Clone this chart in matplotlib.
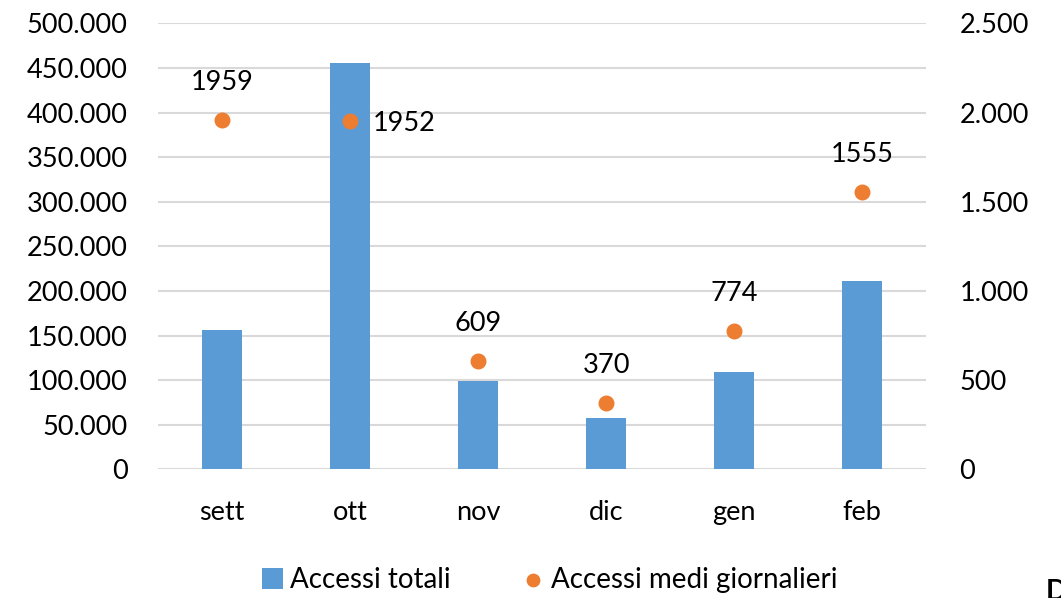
import matplotlib.pyplot as plt
import matplotlib.ticker as mticker
import numpy as np

plt.rcParams['font.family'] = ['Lato', 'DejaVu Sans']

mesi = ['sett', 'ott', 'nov', 'dic', 'gen', 'feb']
accessi_totali = [156000, 456000, 99000, 58000, 109000, 211000]
accessi_medi = [1959, 1952, 609, 370, 774, 1555]

blu = '#5B9BD5'
arancio = '#ED7D31'


def punti_migliaia(v, pos):
    return f"{int(v):,}".replace(',', '.')


fig = plt.figure(figsize=(10.61, 5.98), dpi=100)
ax = fig.add_axes([0.149, 0.2152, 0.724, 0.7458])
ax2 = ax.twinx()

x = np.arange(len(mesi))
barre = ax.bar(x, accessi_totali, width=0.31, color=blu, zorder=2, label='Accessi totali')
ax.set_xlim(-0.5, len(mesi) - 0.5)
ax.set_ylim(0, 500000)
ax.set_yticks(np.arange(0, 500001, 50000))
ax.yaxis.set_major_formatter(mticker.FuncFormatter(punti_migliaia))
ax.set_xticks(x)
ax.set_xticklabels(mesi)
ax.grid(axis='y', color='#d9d9d9', linewidth=1.5, zorder=0)
ax.set_axisbelow(True)

punti = ax2.scatter(x, accessi_medi, s=110, color=arancio, zorder=3, label='Accessi medi giornalieri')
ax2.set_ylim(0, 2500)
ax2.set_yticks(np.arange(0, 2501, 500))
ax2.yaxis.set_major_formatter(mticker.FuncFormatter(punti_migliaia))

# etichette dei punti
for i, v in enumerate(accessi_medi):
    if mesi[i] == 'ott':
        ax2.annotate(str(v), (x[i], v), xytext=(16, -2), textcoords='offset points',
                     ha='left', va='center', fontsize=19.5)
    else:
        ax2.annotate(str(v), (x[i], v), xytext=(0, 27), textcoords='offset points',
                     ha='center', va='center', fontsize=19.5)

for a in (ax, ax2):
    for s in a.spines.values():
        s.set_visible(False)
    a.tick_params(length=0, labelsize=19.5)
ax.tick_params(axis='y', pad=22)
ax2.tick_params(axis='y', pad=24)
ax.tick_params(axis='x', pad=22)

fig.legend(handles=[barre, punti], loc='center', bbox_to_anchor=(0.518, 0.03), ncol=2,
           frameon=False, fontsize=20, handlelength=0.75, handleheight=0.75,
           handletextpad=0.25, columnspacing=2.6, markerscale=0.85)

fig.text(1046 / 1061, -0.012, 'D', fontsize=20, fontweight='bold', ha='left', va='bottom')

fig.savefig('out.png', dpi=100)
